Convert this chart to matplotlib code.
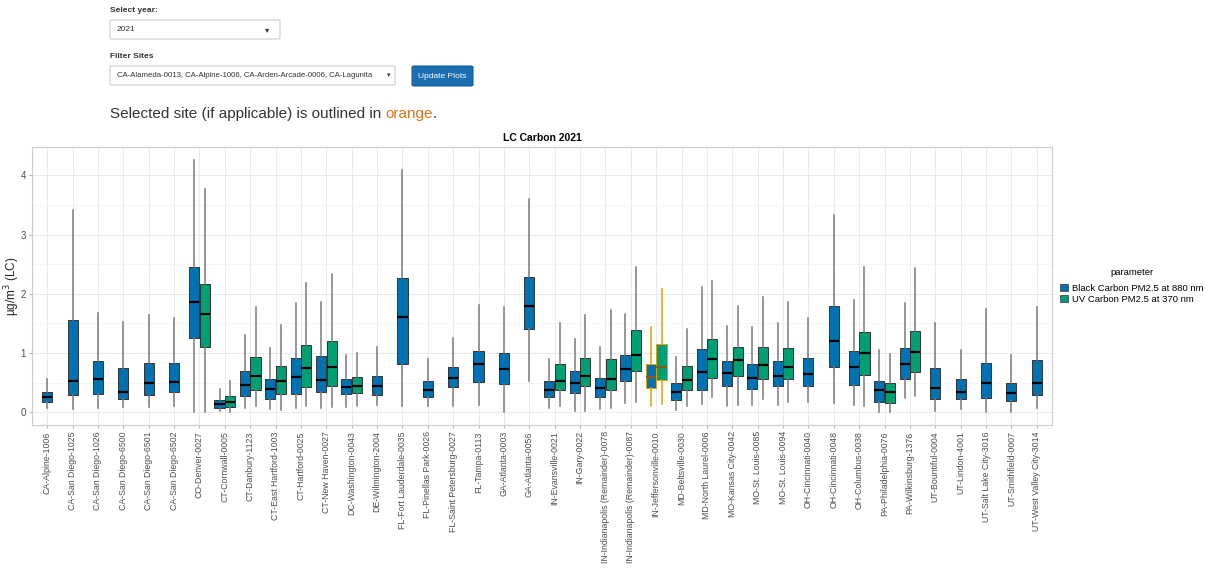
import matplotlib
matplotlib.use('Agg')
import matplotlib.pyplot as plt
from matplotlib.patches import Patch, FancyBboxPatch
from matplotlib.ticker import MultipleLocator

plt.rcParams['font.family'] = ['Liberation Sans', 'DejaVu Sans']

TITLE = 'LC Carbon 2021'
SELECTED = 'IN-Jeffersonville-0010'
BC_NAME = 'Black Carbon PM2.5 at 880 nm'
UV_NAME = 'UV Carbon PM2.5 at 370 nm'

sites = [
    'CA-Alpine-1006', 'CA-San Diego-1025', 'CA-San Diego-1026', 'CA-San Diego-6500',
    'CA-San Diego-6501', 'CA-San Diego-6502', 'CO-Denver-0027', 'CT-Cornwall-0005',
    'CT-Danbury-1123', 'CT-East Hartford-1003', 'CT-Hartford-0025', 'CT-New Haven-0027',
    'DC-Washington-0043', 'DE-Wilmington-2004', 'FL-Fort Lauderdale-0035',
    'FL-Pinellas Park-0026', 'FL-Saint Petersburg-0027', 'FL-Tampa-0113',
    'GA-Atlanta-0003', 'GA-Atlanta-0056', 'IN-Evansville-0021', 'IN-Gary-0022',
    'IN-Indianapolis (Remainder)-0078', 'IN-Indianapolis (Remainder)-0087',
    'IN-Jeffersonville-0010', 'MD-Beltsville-0030', 'MD-North Laurel-0006',
    'MO-Kansas City-0042', 'MO-St. Louis-0085', 'MO-St. Louis-0094',
    'OH-Cincinnati-0040', 'OH-Cincinnati-0048', 'OH-Columbus-0038',
    'PA-Philadelphia-0076', 'PA-Wilkinsburg-1376', 'UT-Bountiful-0004',
    'UT-Lindon-4001', 'UT-Salt Lake City-3016', 'UT-Smithfield-0007',
    'UT-West Valley City-3014',
]

# Black carbon: whisker low, Q1, median, Q3, whisker high
bc_low = [0.08, 0.06, 0.08, 0.09, 0.09, 0.11, 0.00, 0.02, 0.08, 0.05,
          0.08, 0.08, 0.09, 0.12, 0.10, 0.11, 0.10, 0.12, 0.00, 0.53,
          0.08, 0.02, 0.06, 0.15, 0.11, 0.04, 0.14, 0.10, 0.12, 0.13,
          0.17, 0.16, 0.13, 0.00, 0.24, 0.02, 0.06, 0.00, 0.01, 0.07]
bc_q1 = [0.17, 0.30, 0.31, 0.22, 0.29, 0.35, 1.26, 0.07, 0.28, 0.23,
         0.31, 0.34, 0.31, 0.29, 0.82, 0.25, 0.42, 0.51, 0.47, 1.40,
         0.26, 0.33, 0.25, 0.52, 0.41, 0.21, 0.38, 0.45, 0.39, 0.45,
         0.44, 0.77, 0.46, 0.18, 0.56, 0.22, 0.23, 0.24, 0.19, 0.29]
bc_med = [0.25, 0.52, 0.57, 0.35, 0.50, 0.51, 1.86, 0.14, 0.46, 0.39,
          0.60, 0.54, 0.43, 0.45, 1.61, 0.38, 0.58, 0.82, 0.73, 1.80,
          0.38, 0.49, 0.41, 0.73, 0.60, 0.34, 0.68, 0.66, 0.58, 0.62,
          0.64, 1.20, 0.77, 0.37, 0.81, 0.41, 0.35, 0.50, 0.32, 0.49]
bc_q3 = [0.34, 1.55, 0.87, 0.75, 0.83, 0.84, 2.46, 0.20, 0.70, 0.57,
         0.92, 0.95, 0.57, 0.62, 2.27, 0.52, 0.76, 1.04, 1.00, 2.28,
         0.52, 0.70, 0.58, 0.97, 0.82, 0.49, 1.07, 0.86, 0.81, 0.87,
         0.91, 1.80, 1.04, 0.53, 1.08, 0.74, 0.56, 0.84, 0.50, 0.89]
bc_high = [0.57, 3.42, 1.68, 1.53, 1.65, 1.59, 4.26, 0.39, 1.31, 1.08,
           1.84, 1.87, 0.96, 1.10, 4.10, 0.90, 1.25, 1.81, 1.78, 3.60,
           0.90, 1.24, 1.10, 1.66, 1.44, 0.93, 2.12, 1.46, 1.44, 1.51,
           1.60, 3.33, 1.90, 1.06, 1.85, 1.51, 1.05, 1.75, 0.97, 1.77]

# UV carbon (None = not measured at that site)
N = None
uv_low = [N, N, N, N, N, N, 0.00, 0.01, 0.11, 0.04,
          0.10, 0.09, 0.11, N, N, N, N, N, N, N,
          0.11, 0.02, 0.08, 0.17, 0.14, 0.10, 0.25, 0.13, 0.22, 0.18,
          N, N, 0.10, 0.00, 0.28, N, N, N, N, N]
uv_q1 = [N, N, N, N, N, N, 1.10, 0.09, 0.37, 0.31,
         0.43, 0.45, 0.33, N, N, N, N, N, N, N,
         0.37, 0.44, 0.37, 0.69, 0.55, 0.38, 0.58, 0.62, 0.57, 0.56,
         N, N, 0.63, 0.16, 0.68, N, N, N, N, N]
uv_med = [N, N, N, N, N, N, 1.66, 0.17, 0.61, 0.53,
          0.74, 0.77, 0.45, N, N, N, N, N, N, N,
          0.53, 0.62, 0.56, 0.97, 0.77, 0.55, 0.90, 0.88, 0.79, 0.77,
          N, N, 1.00, 0.35, 1.02, N, N, N, N, N]
uv_q3 = [N, N, N, N, N, N, 2.17, 0.27, 0.93, 0.78,
         1.14, 1.20, 0.60, N, N, N, N, N, N, N,
         0.82, 0.92, 0.90, 1.39, 1.16, 0.78, 1.24, 1.10, 1.11, 1.09,
         N, N, 1.36, 0.49, 1.38, N, N, N, N, N]
uv_high = [N, N, N, N, N, N, 3.77, 0.53, 1.77, 1.48,
           2.19, 2.33, 1.00, N, N, N, N, N, N, N,
           1.50, 1.64, 1.72, 2.45, 2.09, 1.40, 2.22, 1.80, 1.94, 1.87,
           N, N, 2.46, 0.99, 2.44, N, N, N, N, N]

BC_COLOR = '#0072B2'
UV_COLOR = '#009E73'
SEL_COLOR = '#E69F00'
EDGE = '#333333'
WHISK = '#7a7a7a'

W, H = 1206, 569
fig = plt.figure(figsize=(W / 100, H / 100), dpi=100)


def fx(x):
    return x / W


def fy(y):
    return 1 - y / H


# ---- header widgets (drawn as figure text / boxes) ----
fig.text(fx(110), fy(10), 'Select year:', fontsize=6, fontweight='bold', color='#333333', va='center')
fig.patches.append(FancyBboxPatch((fx(110), fy(39)), fx(170), 19 / H, boxstyle='round,pad=0,rounding_size=0.002',
                                  transform=fig.transFigure, facecolor='white', edgecolor='#cccccc', lw=0.8))
fig.text(fx(117), fy(29.5), '2021', fontsize=6, color='#333333', va='center')
fig.text(fx(267), fy(29.5), '\u25be', fontsize=6, color='#333333', va='center', ha='center', family='DejaVu Sans')

fig.text(fx(110), fy(56), 'Filter Sites', fontsize=6, fontweight='bold', color='#333333', va='center')
fig.patches.append(FancyBboxPatch((fx(110), fy(85)), fx(285), 19 / H, boxstyle='round,pad=0,rounding_size=0.002',
                                  transform=fig.transFigure, facecolor='white', edgecolor='#cccccc', lw=0.8))
fig.text(fx(117), fy(75.5), 'CA-Alameda-0013, CA-Alpine-1006, CA-Arden-Arcade-0006, CA-Lagunita',
         fontsize=5.6, color='#333333', va='center')
fig.text(fx(389), fy(75.5), '\u25be', fontsize=5, color='#333333', va='center', ha='center', family='DejaVu Sans')

fig.patches.append(FancyBboxPatch((fx(412), fy(86)), fx(61), 20 / H, boxstyle='round,pad=0,rounding_size=0.002',
                                  transform=fig.transFigure, facecolor='#1a6fb3', edgecolor='#16609b', lw=0.8))
fig.text(fx(442.5), fy(76), 'Update Plots', fontsize=6, color='white', va='center', ha='center')

t1 = fig.text(fx(110), fy(114), 'Selected site (if applicable) is outlined in ', fontsize=11, color='#333333', va='center')
fig.canvas.draw()
bb = t1.get_window_extent()
t2 = fig.text(bb.x1 / W, fy(114), 'orange', fontsize=11, color='#d9731f', va='center')
bb2 = t2.get_window_extent()
fig.text(bb2.x1 / W, fy(114), '.', fontsize=11, color='#333333', va='center')

# ---- main boxplot panel ----
ax = fig.add_axes([fx(32), fy(425), fx(1052 - 32), (425 - 147) / H])


def stats_at(i, low, q1, med, q3, high):
    return {'whislo': low[i], 'q1': q1[i], 'med': med[i], 'q3': q3[i], 'whishi': high[i], 'fliers': []}


def draw(stats, pos, fill, sel):
    edge = SEL_COLOR if sel else EDGE
    wcol = SEL_COLOR if sel else WHISK
    mcol = '#8a5a10' if sel else 'black'
    ax.bxp([stats], positions=[pos], widths=0.4, patch_artist=True, showcaps=False,
           showfliers=False, manage_ticks=False,
           boxprops=dict(facecolor=fill, edgecolor=edge, lw=0.7),
           whiskerprops=dict(color=wcol, lw=1.1),
           medianprops=dict(color=mcol, lw=1.6), zorder=3)


for i, site in enumerate(sites):
    sel = site == SELECTED
    has_uv = uv_med[i] is not None
    if has_uv:
        draw(stats_at(i, bc_low, bc_q1, bc_med, bc_q3, bc_high), i - 0.21, BC_COLOR, sel)
        draw(stats_at(i, uv_low, uv_q1, uv_med, uv_q3, uv_high), i + 0.21, UV_COLOR, sel)
    else:
        draw(stats_at(i, bc_low, bc_q1, bc_med, bc_q3, bc_high), i, BC_COLOR, sel)

ax.set_xlim(-0.6, len(sites) - 0.4)
ax.set_ylim(-0.215, 4.48)
ax.set_xticks(range(len(sites)))
ax.set_xticklabels(sites, rotation=90, fontsize=6.35, color='#4d4d4d')
ax.yaxis.set_major_locator(MultipleLocator(1))
ax.yaxis.set_minor_locator(MultipleLocator(0.5))
ax.tick_params(axis='y', which='major', labelsize=7, labelcolor='#4d4d4d', length=2.5, color='#b3b3b3', pad=2)
ax.tick_params(axis='y', which='minor', length=0)
ax.tick_params(axis='x', length=2.5, color='#b3b3b3', pad=2)
ax.grid(True, which='major', color='#e6e6e6', lw=0.6, zorder=0)
ax.grid(True, which='minor', axis='y', color='#f2f2f2', lw=0.5, zorder=0)
ax.set_axisbelow(True)
for sp in ax.spines.values():
    sp.set_color('#cccccc')
    sp.set_linewidth(0.8)
ax.set_ylabel('\u00b5g/m$^3$ (LC)', fontsize=8.5, color='#222222')
ax.yaxis.set_label_coords(-0.0098, 0.5)
ax.set_title(TITLE, fontsize=7.5, fontweight='bold', pad=4)

handles = [Patch(facecolor=BC_COLOR, edgecolor=EDGE, lw=0.5, label=BC_NAME),
           Patch(facecolor=UV_COLOR, edgecolor=EDGE, lw=0.5, label=UV_NAME)]
leg = fig.legend(handles=handles, title='parameter', loc='upper left',
                 bbox_to_anchor=(fx(1060), fy(268)), frameon=False, fontsize=6.8,
                 title_fontsize=6.8, handlelength=0.8, handleheight=0.7,
                 handletextpad=0.5, labelspacing=0.2, borderaxespad=0, borderpad=0)
leg._legend_box.sep = 5

fig.savefig('out.png', dpi=100)
